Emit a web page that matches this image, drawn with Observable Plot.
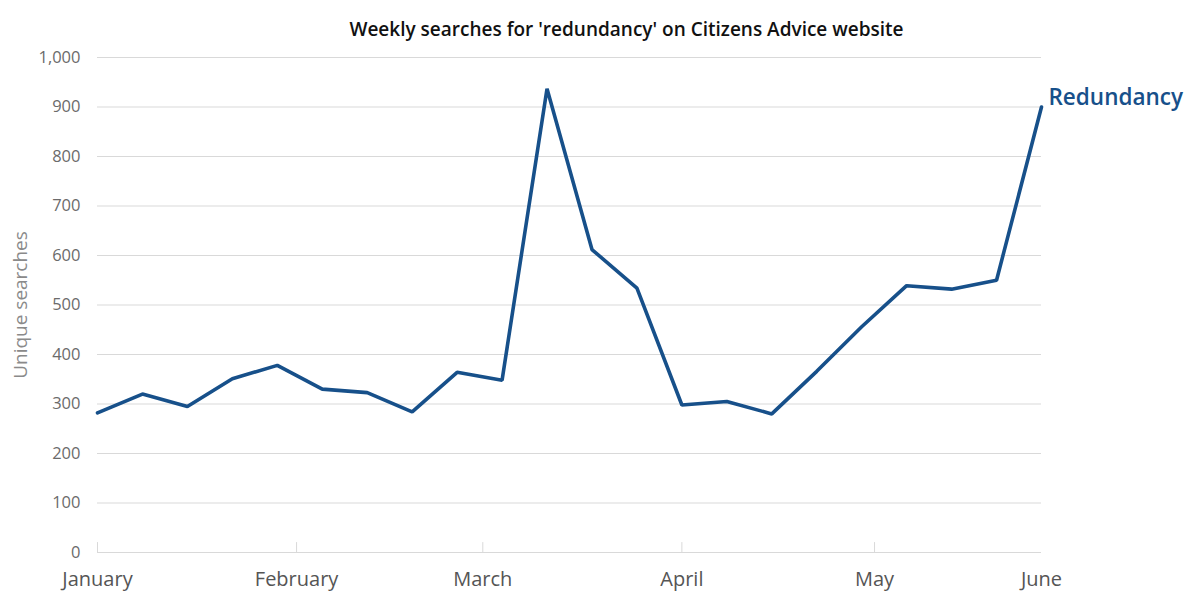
<!DOCTYPE html>
<html>
<head>
<meta charset="utf-8">
<script src="https://cdn.jsdelivr.net/npm/d3@7"></script>
<script src="https://cdn.jsdelivr.net/npm/@observablehq/plot@0.6"></script>
<style>
  html, body { margin: 0; padding: 0; background: #fff; }
  #chart svg { display: block; }
</style>
</head>
<body>
<div id="chart"></div>
<script>
// Week-start dates (2020)
const weeks = [
  "2020-01-01","2020-01-08","2020-01-15","2020-01-22","2020-01-29",
  "2020-02-05","2020-02-12","2020-02-19","2020-02-26","2020-03-04",
  "2020-03-11","2020-03-18","2020-03-25","2020-04-01","2020-04-08",
  "2020-04-15","2020-04-22","2020-04-29","2020-05-06","2020-05-13",
  "2020-05-20","2020-05-27"
];
// Unique searches for 'redundancy'
const searches = [
  282, 320, 295, 351, 378, 330, 323, 284, 364, 348,
  937, 612, 534, 298, 305, 280, 366, 456, 539, 532,
  550, 900
];
// X axis tick positions and labels
const tickDates = ["2020-01-01","2020-02-01","2020-03-01","2020-04-01","2020-05-01","2020-05-27"];
const tickLabels = ["January","February","March","April","May","June"];
const monthTickDates = ["2020-01-01","2020-02-01","2020-03-01","2020-04-01","2020-05-01"];
const yTicks = [0,100,200,300,400,500,600,700,800,900,1000];
const seriesName = "Redundancy";
const title = "Weekly searches for 'redundancy' on Citizens Advice website";
const yLabel = "Unique searches";

const data = weeks.map((w, i) => ({date: new Date(w), value: searches[i]}));
const ticks = tickDates.map(d => new Date(d));
const monthTicks = monthTickDates.map(d => new Date(d));
const lineColor = "#17508a";

const chart = Plot.plot({
  width: 1191,
  height: 592,
  marginLeft: 97,
  marginRight: 150,
  marginTop: 57,
  marginBottom: 40,
  style: {fontFamily: "'Open Sans', sans-serif", background: "#fff"},
  x: {type: "utc", domain: [ticks[0], ticks[ticks.length - 1]]},
  y: {domain: [0, 1000]},
  marks: [
    Plot.gridY(yTicks, {stroke: "#d9d9d9", strokeOpacity: 1, strokeWidth: 1}),
    Plot.ruleX(monthTicks, {x: d => d, y1: 0, y2: 20, stroke: "#d9d9d9"}),
    Plot.axisY(yTicks, {
      tickSize: 0, tickPadding: 17, fontSize: 16.5, fill: "#6b6b6b",
      tickFormat: d3.format(","),
      label: yLabel, labelAnchor: "center", labelArrow: "none", labelOffset: 84
    }),
    Plot.axisX(ticks, {
      tickSize: 0, tickPadding: 19, fontSize: 20, fill: "#555",
      tickFormat: (d, i) => tickLabels[i], label: null
    }),
    Plot.line(data, {x: "date", y: "value", stroke: lineColor, strokeWidth: 3.6, strokeLinejoin: "miter"}),
    Plot.text(data.slice(-1), {
      x: "date", y: "value", text: () => seriesName, textAnchor: "start",
      dx: 7, dy: -9, fill: lineColor, fontSize: 22.5, fontWeight: 600
    }),
    Plot.text([title], {
      frameAnchor: "top", dx: 57, dy: -35, fontSize: 19, fontWeight: 600, fill: "#111"
    })
  ]
});

// style the y-axis label
chart.querySelectorAll("[aria-label='y-axis label'] text").forEach(t => {
  t.setAttribute("font-size", "19");
  t.setAttribute("fill", "#8a8a8a");
});
document.getElementById("chart").appendChild(chart);
</script>
</body>
</html>
